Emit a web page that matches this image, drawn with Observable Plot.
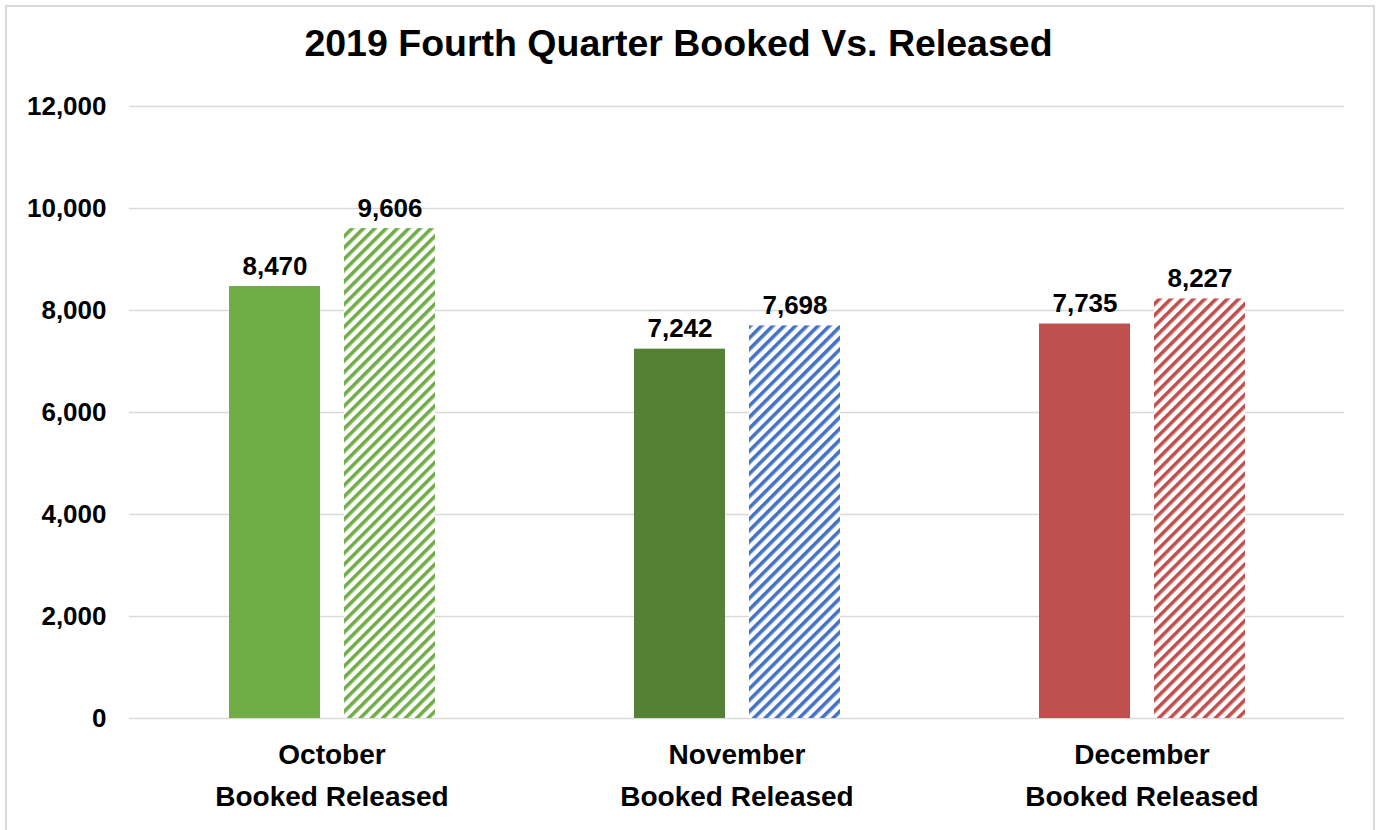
<!DOCTYPE html>
<html>
<head>
<meta charset="utf-8">
<script src="https://cdn.jsdelivr.net/npm/d3@7"></script>
<script src="https://cdn.jsdelivr.net/npm/@observablehq/plot@0.6"></script>
<style>
html, body { margin: 0; padding: 0; overflow: hidden; background: #fff; width: 1376px; height: 830px; }
body { font-family: "Liberation Sans", Arial, sans-serif; }
#frame { position: absolute; left: 5px; top: 5px; width: 1370px; height: 900px; border: 2px solid #d9d9d9; box-sizing: border-box; }
#chart { position: absolute; left: 0; top: 0; }
#title { position: absolute; left: 0; top: 25px; width: 1357px; text-align: center; font-weight: bold; font-size: 37.5px; line-height: 37px; color: #000; z-index: 2; }
</style>
</head>
<body>
<div id="frame"></div>
<div id="chart"></div>
<div id="title">2019 Fourth Quarter Booked Vs. Released</div>
<script>
// ---- data ----
const months = ["October", "November", "December"];
const types = ["Booked", "Released"];
const booked = [8470, 7242, 7735];
const released = [9606, 7698, 8227];
const yTicks = [0, 2000, 4000, 6000, 8000, 10000, 12000];

// ---- palette ----
const bookedColors = ["#70AD47", "#548235", "#C0504D"];
const releasedColors = ["#70AD47", "#4472C4", "#C0504D"];

const rows = [];
months.forEach((m, i) => {
  rows.push({month: m, type: "Booked", value: booked[i], fill: bookedColors[i]});
  rows.push({month: m, type: "Released", value: released[i], fill: `url(#hatch-${i})`});
});

const fmt = d3.format(",");

const chart = Plot.plot({
  width: 1376,
  height: 830,
  marginLeft: 128,
  marginRight: 32,
  marginTop: 106,
  marginBottom: 112,
  style: {fontFamily: '"Liberation Sans", Arial, sans-serif', fontWeight: "bold", fontSize: "26px", color: "#000", background: "transparent", overflow: "visible"},
  fx: {domain: months, padding: 0, axis: null, label: null},
  x: {domain: types, paddingInner: 0.21, paddingOuter: 0.86, axis: null, label: null},
  y: {domain: [0, 12000], label: null},
  color: {type: "identity"},
  marks: [
    Plot.gridY(yTicks, {stroke: "#d9d9d9", strokeOpacity: 1, strokeWidth: 1.6}),
    Plot.axisY(yTicks, {tickSize: 0, tickPadding: 23, tickFormat: fmt, label: null, fontSize: 26}),
    Plot.barY(rows, {fx: "month", x: "type", y: "value", fill: "fill"}),
    Plot.text(rows, {fx: "month", x: "type", y: "value", text: d => fmt(d.value), lineAnchor: "bottom", dy: -12, fontSize: 26, fontWeight: "bold"}),
    Plot.text(months, {fx: d => d, text: d => d + "\n" + types.join(" "), frameAnchor: "bottom", lineAnchor: "top", dy: 16, fontSize: 28, fontWeight: "bold", lineHeight: 1.5})
  ]
});

// hatch patterns for "Released" bars
const ns = "http://www.w3.org/2000/svg";
const defs = document.createElementNS(ns, "defs");
releasedColors.forEach((c, i) => {
  const p = document.createElementNS(ns, "pattern");
  p.setAttribute("id", `hatch-${i}`);
  p.setAttribute("patternUnits", "userSpaceOnUse");
  p.setAttribute("width", "8");
  p.setAttribute("height", "8");
  p.setAttribute("patternTransform", "rotate(45)");
  const bg = document.createElementNS(ns, "rect");
  bg.setAttribute("width", "8"); bg.setAttribute("height", "8"); bg.setAttribute("fill", "#fff");
  const st = document.createElementNS(ns, "rect");
  st.setAttribute("width", "3.6"); st.setAttribute("height", "8"); st.setAttribute("fill", c);
  p.appendChild(bg); p.appendChild(st);
  defs.appendChild(p);
});
chart.insertBefore(defs, chart.firstChild);

document.getElementById("chart").appendChild(chart);
</script>
</body>
</html>
